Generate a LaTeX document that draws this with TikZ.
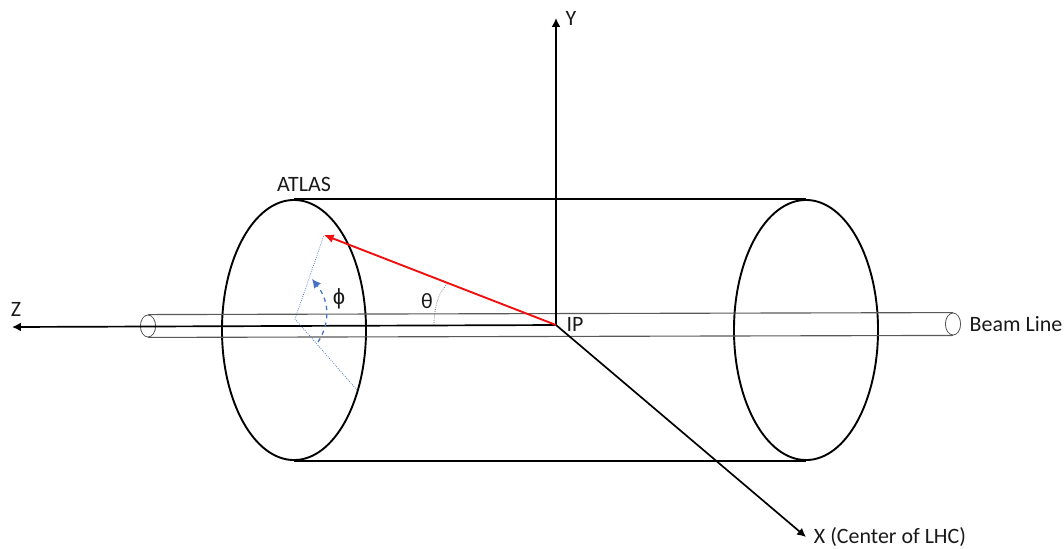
\documentclass[tikz,border=0pt]{standalone}
\usepackage{xcolor}
\usepackage{fontspec}
\setmainfont{Carlito}
\newfontfamily\greekfont{Liberation Sans}
\usetikzlibrary{arrows.meta,shapes.geometric}
\definecolor{trackred}{HTML}{F01010}
\definecolor{phiblue}{HTML}{4472C4}
\definecolor{pipegrey}{HTML}{595959}
\tikzset{
  detector/.style={ellipse, draw=black, line width=1.35pt, minimum width=3.6cm, minimum height=6.5cm, inner sep=0pt},
  pipeend/.style={ellipse, draw=pipegrey, line width=0.6pt, minimum width=0.38cm, minimum height=0.55cm, inner sep=0pt},
  cylinderedge/.style={line width=1.35pt, draw=black},
  pipeedge/.style={line width=0.8pt, draw=pipegrey},
  axisedge/.style={line width=1.2pt, draw=black, -{Latex[length=2.2mm,width=2.2mm]}},
  trackedge/.style={line width=1.35pt, draw=trackred, -{Latex[length=2.4mm,width=2.2mm]}},
  projedge/.style={line width=0.55pt, draw=phiblue, densely dotted},
  phiedge/.style={line width=0.9pt, draw=phiblue, dashed, -{Latex[length=2.2mm,width=2.2mm]}},
  thetaedge/.style={line width=0.55pt, draw=black!60, densely dotted},
  axislabel/.style={font=\fontsize{15.6}{18}\selectfont, text=black!90, inner sep=0pt}
}
\begin{document}
\begin{tikzpicture}[x=0.025cm,y=-0.025cm]
\path[use as bounding box] (0,0) rectangle (1064,548);

\node[detector] (atlasfront) at (294,330) {};
\node[detector] (atlasback) at (806,330) {};
\node[pipeend] (pipefront) at (148,326) {};
\node[pipeend] (pipeback) at (953,324) {};

\coordinate (ip) at (556,325);
\coordinate (ytip) at (556,18);
\coordinate (ztip) at (12,327);
\coordinate (xtip) at (806,537);
\coordinate (hit) at (324,235);
\coordinate (phicentre) at (295,319);
\coordinate (phifoot) at (357,390);
\coordinate (phistart) at (318,342);
\coordinate (phiend) at (312,279);
\coordinate (thetastart) at (434,325);
\coordinate (thetaend) at (448,283);

\node[axislabel] (ylabel) at (571,18) {Y};
\node[axislabel] (zlabel) at (16,309) {Z};
\node[axislabel] (xlabel) at (890,537) {X (Center of LHC)};
\node[axislabel] (atlaslabel) at (304,184) {ATLAS};
\node[axislabel] (iplabel) at (575,324) {IP};
\node[axislabel] (beamlabel) at (1016,324) {Beam Line};
\node[axislabel] (philabel) at (339,299) {\greekfont ϕ};
\node[axislabel] (thetalabel) at (427,301) {θ};

\draw[cylinderedge] (atlasfront.north) -- (atlasback.north);
\draw[cylinderedge] (atlasfront.south) -- (atlasback.south);
\draw[pipeedge] (pipefront.north) -- (pipeback.north);
\draw[pipeedge] (pipefront.south) -- (pipeback.south);

\draw[axisedge] (ip) -- (ytip);
\draw[axisedge] (ip) -- (ztip);
\draw[axisedge] (ip) -- (xtip);
\draw[projedge] (phifoot) -- (phicentre) -- (hit);
\draw[phiedge] (phistart) .. controls (329,325) and (331,303) .. (phiend);
\draw[thetaedge] (thetastart) .. controls (434,308) and (438,293) .. (thetaend);
\draw[trackedge] (ip) -- (hit);

\end{tikzpicture}
\end{document}
